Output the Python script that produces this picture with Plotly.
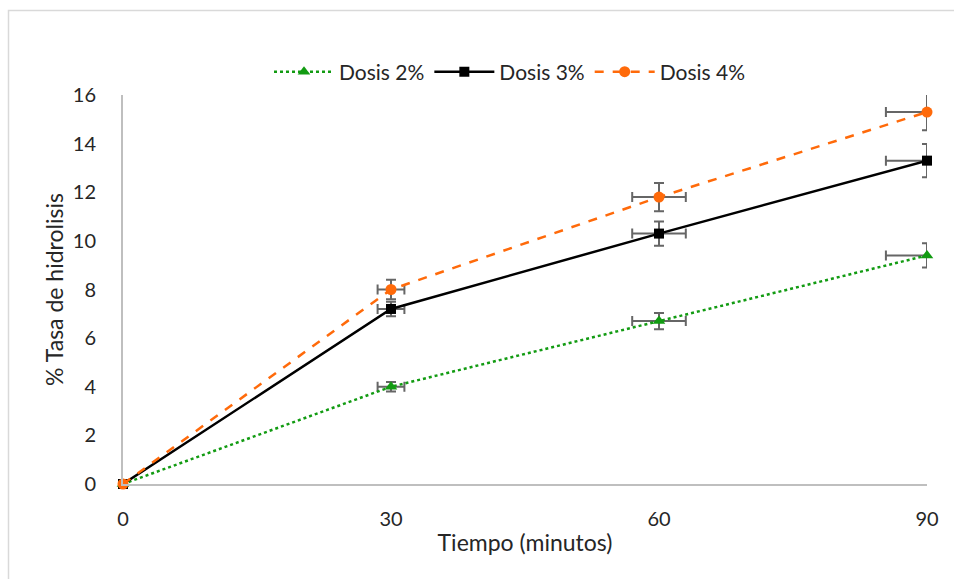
import plotly.graph_objects as go

tiempo = [0, 30, 60, 90]
dosis2 = [0, 4.0, 6.7, 9.4]
dosis3 = [0, 7.2, 10.3, 13.3]
dosis4 = [0, 8.0, 11.8, 15.3]
err_y2 = [0, 0.2, 0.33, 0.5]
err_y3 = [0, 0.3, 0.5, 0.68]
err_y4 = [0, 0.4, 0.58, 0.75]
err_x_minus = [0, 1.5, 3.0, 4.6]
err_x_plus = [0, 1.5, 3.0, 0]

series = [
    ("Dosis 2%", dosis2, err_y2, "#129B12", "dot", "triangle-up", 11),
    ("Dosis 3%", dosis3, err_y3, "#000000", "solid", "square", 10),
    ("Dosis 4%", dosis4, err_y4, "#FF6A0A", "dash", "circle", 11),
]

fig = go.Figure()
for name, ys, ey, color, dash, sym, size in series:
    fig.add_trace(go.Scatter(
        x=tiempo, y=ys, name=name, mode="lines+markers",
        line=dict(color=color, width=2.5, dash=dash),
        marker=dict(symbol=sym, size=size, color=color),
        error_y=dict(type="data", array=ey, color="#666666", thickness=2, width=5),
        error_x=dict(type="data", symmetric=False, array=err_x_plus, arrayminus=err_x_minus,
                     color="#666666", thickness=2, width=5),
        cliponaxis=False,
    ))

font = "Lato, 'Open Sans', sans-serif"
fig.update_layout(
    width=954, height=579,
    margin=dict(l=123, r=27, t=95, b=95),
    paper_bgcolor="white", plot_bgcolor="white",
    font=dict(family=font, size=20, color="#262626"),
    showlegend=True,
    legend=dict(orientation="h", x=(510 - 123) / 804, xanchor="center", y=(484 - 72) / 389, yanchor="middle",
                font=dict(size=21, color="#262626"), bgcolor="rgba(0,0,0,0)",
                itemwidth=60, tracegroupgap=0),
    xaxis=dict(range=[0, 90], tickvals=[0, 30, 60, 90], showgrid=False, zeroline=False,
               showline=True, linecolor="#BFBFBF", linewidth=2, ticks="", ticklabelstandoff=16,
               tickfont=dict(size=20), title=dict(text="Tiempo (minutos)", font=dict(size=23), standoff=6)),
    yaxis=dict(range=[0, 16], tickvals=list(range(0, 17, 2)), showgrid=False, zeroline=False,
               showline=True, linecolor="#BFBFBF", linewidth=2, ticks="", ticklabelstandoff=21,
               tickfont=dict(size=20), title=dict(text="% Tasa de hidrolisis", font=dict(size=23), standoff=3)),
    shapes=[dict(type="rect", xref="paper", yref="paper",
                 x0=(8.5 - 123) / 804, x1=(962 - 123) / 804,
                 y0=(484 - 590) / 389, y1=(484 - 10.5) / 389,
                 line=dict(color="#D9D9D9", width=1.5), layer="below")],
)

fig.write_html("out.html")
